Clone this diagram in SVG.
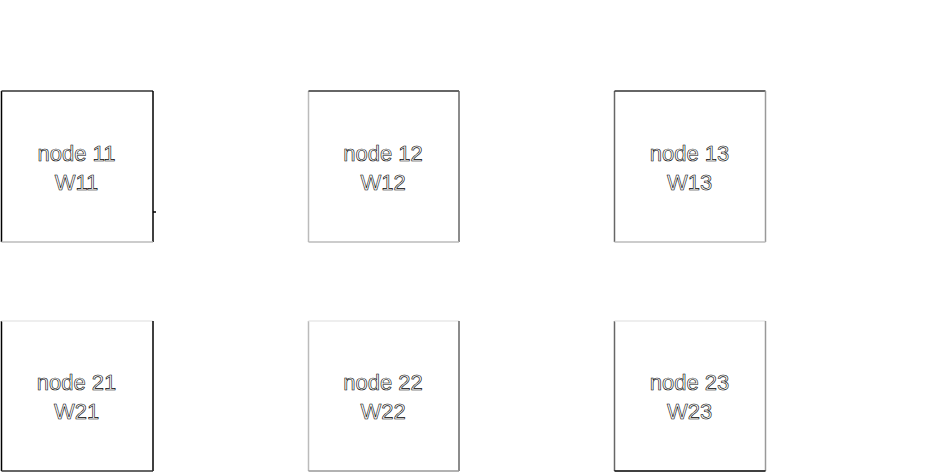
<svg xmlns="http://www.w3.org/2000/svg" width="938" height="474" viewBox="0 0 938 474">
<style>
text{font-family:"Liberation Sans",Arial,sans-serif;font-size:22px;fill:#fff;stroke:#000;stroke-width:0.6;text-anchor:middle}
line{stroke-width:1.5}
.k{stroke:#000}.d{stroke:#333}.m{stroke:#666}.g{stroke:#999}.l{stroke:#bbb}.x{stroke:#e8e8e8}
</style>
<rect width="938" height="474" fill="#fff"/>
<g id="node11">
<line class="k" x1="1.5" y1="91" x2="1.5" y2="242"/>
<line class="d" x1="1.5" y1="91" x2="153" y2="91"/>
<line class="k" x1="153" y1="91" x2="153" y2="242"/>
<line class="l" x1="1.5" y1="242" x2="153" y2="242"/>
<line class="k" x1="153" y1="212" x2="156" y2="212"/>
<text x="76.5" y="161">node 11</text><text x="76.5" y="190">W11</text>
</g>
<g id="node12">
<line class="l" x1="308.5" y1="91" x2="308.5" y2="242"/>
<line class="d" x1="308.5" y1="91" x2="459" y2="91"/>
<line class="m" x1="459" y1="91" x2="459" y2="242"/>
<line class="l" x1="308.5" y1="242" x2="459" y2="242"/>
<text x="383" y="161">node 12</text><text x="383" y="190">W12</text>
</g>
<g id="node13">
<line class="m" x1="614.5" y1="91" x2="614.5" y2="242"/>
<line class="d" x1="614.5" y1="91" x2="765.5" y2="91"/>
<line class="g" x1="765.5" y1="91" x2="765.5" y2="242"/>
<line class="l" x1="614.5" y1="242" x2="765.5" y2="242"/>
<text x="689.5" y="161">node 13</text><text x="689.5" y="190">W13</text>
</g>
<g id="node21">
<line class="k" x1="1.5" y1="321" x2="1.5" y2="471"/>
<line class="x" x1="1.5" y1="321" x2="153" y2="321"/>
<line class="k" x1="153" y1="321" x2="153" y2="471"/>
<line class="d" x1="1.5" y1="471" x2="153" y2="471"/>
<text x="76.5" y="390">node 21</text><text x="76.5" y="419">W21</text>
</g>
<g id="node22">
<line class="l" x1="308.5" y1="321" x2="308.5" y2="471"/>
<line class="x" x1="308.5" y1="321" x2="459" y2="321"/>
<line class="m" x1="459" y1="321" x2="459" y2="471"/>
<line class="g" x1="308.5" y1="471" x2="459" y2="471"/>
<text x="383" y="390">node 22</text><text x="383" y="419">W22</text>
</g>
<g id="node23">
<line class="m" x1="614.5" y1="321" x2="614.5" y2="471"/>
<line class="x" x1="614.5" y1="321" x2="765.5" y2="321"/>
<line class="g" x1="765.5" y1="321" x2="765.5" y2="471"/>
<line class="k" x1="614.5" y1="471" x2="765.5" y2="471"/>
<text x="689.5" y="390">node 23</text><text x="689.5" y="419">W23</text>
</g>
<g id="connectors"/>
</svg>
